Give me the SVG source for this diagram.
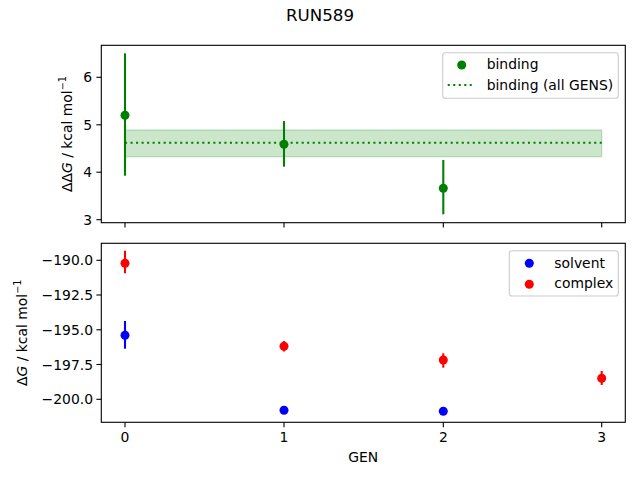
<svg xmlns="http://www.w3.org/2000/svg" width="640" height="480" viewBox="0 0 640 480">
<style>
text{font-family:"DejaVu Sans","Liberation Sans",sans-serif;fill:#000}
.tk{font-size:13.9px}
.ax{fill:none;stroke:#000;stroke-width:1.1;stroke-linecap:square}
.tick{stroke:#000;stroke-width:1.1}
.eg{stroke:#008000;stroke-width:2.08}
.er{stroke:#ff0000;stroke-width:2.08}
.eb{stroke:#0000ff;stroke-width:2.08}
.leg{fill:#fff;fill-opacity:0.8;stroke:#cccccc;stroke-width:1.1}
.dot{stroke:#008000;stroke-width:2.08;stroke-dasharray:2.08 3.44;fill:none}
</style>
<rect width="640" height="480" fill="#fff"/>
<text x="320" y="21" font-size="16.67" text-anchor="middle">RUN589</text>

<g id="top-axes">
  <rect x="125" y="130" width="476.7" height="26.7" fill="#008000" fill-opacity="0.2" stroke="#008000" stroke-opacity="0.2" stroke-width="1.4"/>
  <line class="dot" x1="125" y1="142.7" x2="601.7" y2="142.7"/>
  <g id="binding-points">
    <line class="eg" x1="125" y1="53.3" x2="125" y2="175.7"/>
    <circle cx="125" cy="115.3" r="4.5" fill="#008000"/>
    <line class="eg" x1="284" y1="121" x2="284" y2="166.7"/>
    <circle cx="284" cy="144.3" r="4.5" fill="#008000"/>
    <line class="eg" x1="443.3" y1="160" x2="443.3" y2="214.3"/>
    <circle cx="443.3" cy="188.3" r="4.5" fill="#008000"/>
  </g>
  <rect class="ax" x="101.3" y="45.3" width="524" height="177.4"/>
  <g class="tick">
    <line x1="125" y1="222.7" x2="125" y2="227.6"/>
    <line x1="284" y1="222.7" x2="284" y2="227.6"/>
    <line x1="443.3" y1="222.7" x2="443.3" y2="227.6"/>
    <line x1="601.7" y1="222.7" x2="601.7" y2="227.6"/>
    <line x1="96.4" y1="77.3" x2="101.3" y2="77.3"/>
    <line x1="96.4" y1="124.8" x2="101.3" y2="124.8"/>
    <line x1="96.4" y1="172.2" x2="101.3" y2="172.2"/>
    <line x1="96.4" y1="219.7" x2="101.3" y2="219.7"/>
  </g>
  <g class="tk" text-anchor="end">
    <text x="92" y="82.3">6</text>
    <text x="92" y="129.8">5</text>
    <text x="92" y="177.2">4</text>
    <text x="92" y="224.7">3</text>
  </g>
  <text class="tk" transform="translate(72,134) rotate(-90)" text-anchor="middle">ΔΔ<tspan font-style="italic">G</tspan> / kcal mol<tspan font-size="9.7" dy="-6">−1</tspan></text>
  <g id="legend-top">
    <rect class="leg" x="442.7" y="52.7" width="175.6" height="45.6" rx="2.8"/>
    <circle cx="461.7" cy="65" r="4.5" fill="#008000"/>
    <line class="dot" x1="447.7" y1="85" x2="471.7" y2="85"/>
    <text class="tk" x="486.7" y="69">binding</text>
    <text class="tk" x="486.7" y="89.7">binding (all GENS)</text>
  </g>
</g>

<g id="bottom-axes">
  <g id="complex-points">
    <line class="er" x1="125" y1="250.7" x2="125" y2="273.3"/>
    <circle cx="125" cy="263.3" r="4.5" fill="#ff0000"/>
    <line class="er" x1="284" y1="341" x2="284" y2="351.5"/>
    <circle cx="284" cy="346.3" r="4.5" fill="#ff0000"/>
    <line class="er" x1="443.3" y1="353.3" x2="443.3" y2="367.7"/>
    <circle cx="443.3" cy="360" r="4.5" fill="#ff0000"/>
    <line class="er" x1="601.7" y1="371" x2="601.7" y2="385"/>
    <circle cx="601.7" cy="378.3" r="4.5" fill="#ff0000"/>
  </g>
  <g id="solvent-points">
    <line class="eb" x1="125" y1="321" x2="125" y2="348.7"/>
    <circle cx="125" cy="335.3" r="4.5" fill="#0000ff"/>
    <circle cx="284" cy="410.3" r="4.5" fill="#0000ff"/>
    <circle cx="443.3" cy="411.3" r="4.5" fill="#0000ff"/>
  </g>
  <rect class="ax" x="101.3" y="243.3" width="524" height="179"/>
  <g class="tick">
    <line x1="125" y1="422.3" x2="125" y2="427.2"/>
    <line x1="284" y1="422.3" x2="284" y2="427.2"/>
    <line x1="443.3" y1="422.3" x2="443.3" y2="427.2"/>
    <line x1="601.7" y1="422.3" x2="601.7" y2="427.2"/>
    <line x1="96.4" y1="260.3" x2="101.3" y2="260.3"/>
    <line x1="96.4" y1="295" x2="101.3" y2="295"/>
    <line x1="96.4" y1="329.8" x2="101.3" y2="329.8"/>
    <line x1="96.4" y1="364.5" x2="101.3" y2="364.5"/>
    <line x1="96.4" y1="399.3" x2="101.3" y2="399.3"/>
  </g>
  <g class="tk" text-anchor="end">
    <text x="93" y="265.3">−190.0</text>
    <text x="93" y="300">−192.5</text>
    <text x="93" y="334.8">−195.0</text>
    <text x="93" y="369.5">−197.5</text>
    <text x="93" y="404.3">−200.0</text>
  </g>
  <g class="tk" text-anchor="middle">
    <text x="125" y="442.3">0</text>
    <text x="284" y="442.3">1</text>
    <text x="443.3" y="442.3">2</text>
    <text x="601.7" y="442.3">3</text>
    <text x="363.3" y="462.3">GEN</text>
  </g>
  <text class="tk" transform="translate(27,332.8) rotate(-90)" text-anchor="middle">Δ<tspan font-style="italic">G</tspan> / kcal mol<tspan font-size="9.7" dy="-6">−1</tspan></text>
  <g id="legend-bottom">
    <rect class="leg" x="509.3" y="250.7" width="109" height="45.3" rx="2.8"/>
    <circle cx="529.3" cy="263.3" r="4.5" fill="#0000ff"/>
    <circle cx="529.3" cy="284.3" r="4.5" fill="#ff0000"/>
    <text class="tk" x="554.3" y="267.5">solvent</text>
    <text class="tk" x="554.3" y="288.3">complex</text>
  </g>
</g>
</svg>
